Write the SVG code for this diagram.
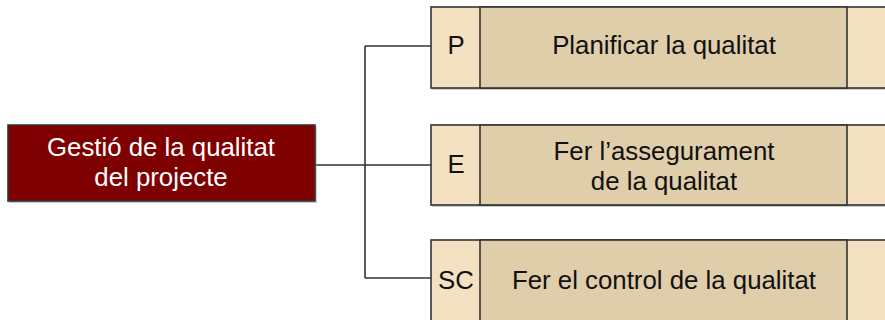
<svg xmlns="http://www.w3.org/2000/svg" width="885" height="320" viewBox="0 0 885 320">
<defs>
<style>
.lt{fill:#f4e1c2;stroke:#333;stroke-width:1.6}
.md{fill:#e0cdaa;stroke:#333;stroke-width:1.6}
.sh{fill:#9a9a9a;opacity:0.5}
.t{font-family:"Liberation Sans",Arial,sans-serif;font-size:25.8px;fill:#111;text-anchor:middle}
.w{fill:#fff}
.c{fill:none;stroke:#333;stroke-width:1.6}
</style>
</defs>
<rect width="885" height="320" fill="#fff"/>
<g id="connectors">
<path class="c" d="M315 165H365M365 46V278M365 46H431M365 165H431M365 278H431"/>
</g>
<g id="root">
<rect class="sh" x="9" y="126" width="308" height="77"/>
<rect x="8" y="125" width="307" height="76" fill="#7f0000" stroke="#333" stroke-width="1.6"/>
<text class="t w" x="161" y="156">Gestió de la qualitat</text>
<text class="t w" x="161" y="186">del projecte</text>
</g>
<g id="p">
<rect class="sh" x="432" y="8" width="460" height="82"/>
<rect class="lt" x="431" y="7" width="470" height="81"/>
<rect class="md" x="480" y="7" width="367" height="81"/>
<text class="t" x="456" y="54">P</text>
<text class="t" x="664" y="54">Planificar la qualitat</text>
</g>
<g id="e">
<rect class="sh" x="432" y="126" width="460" height="81"/>
<rect class="lt" x="431" y="125" width="470" height="80"/>
<rect class="md" x="480" y="125" width="367" height="80"/>
<text class="t" x="456" y="173">E</text>
<text class="t" x="664" y="160">Fer l’assegurament</text>
<text class="t" x="664" y="190">de la qualitat</text>
</g>
<g id="sc">
<rect class="sh" x="432" y="241" width="460" height="82"/>
<rect class="lt" x="431" y="240" width="470" height="81"/>
<rect class="md" x="480" y="240" width="367" height="81"/>
<text class="t" x="456" y="289">SC</text>
<text class="t" x="664" y="289">Fer el control de la qualitat</text>
</g>
</svg>
